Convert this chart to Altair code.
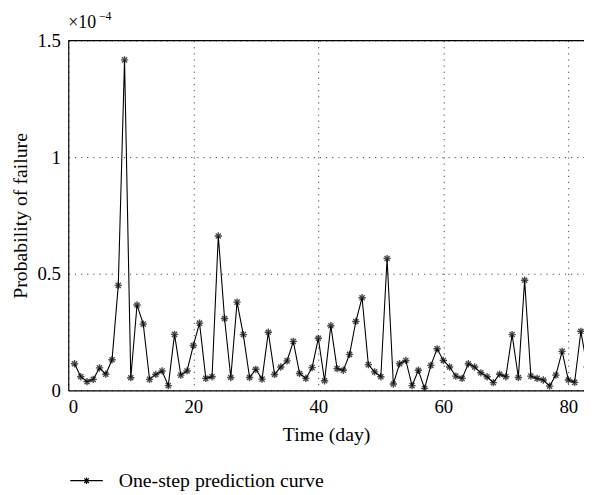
import altair as alt
import pandas as pd

days = list(range(1, 84))
prob = [0.114, 0.058, 0.037, 0.047, 0.096, 0.069, 0.131, 0.45, 1.417, 0.054,
        0.366, 0.284, 0.047, 0.068, 0.083, 0.02, 0.24, 0.065, 0.083, 0.192,
        0.288, 0.051, 0.058, 0.662, 0.308, 0.055, 0.378, 0.239, 0.055, 0.09,
        0.048, 0.249, 0.068, 0.1, 0.126, 0.21, 0.072, 0.051, 0.097, 0.223,
        0.041, 0.277, 0.093, 0.086, 0.154, 0.295, 0.397, 0.11, 0.079, 0.058,
        0.565, 0.027, 0.114, 0.128, 0.02, 0.086, 0.008, 0.107, 0.178, 0.128,
        0.1, 0.061, 0.051, 0.114, 0.1, 0.075, 0.058, 0.033, 0.069, 0.058,
        0.239, 0.055, 0.472, 0.061, 0.051, 0.044, 0.018, 0.065, 0.167, 0.044,
        0.034, 0.253, 0.1]
series = ["One-step prediction curve"] * len(days)
x_ticks = [0, 20, 40, 60, 80]
y_ticks = [0, 0.5, 1, 1.5]

df = pd.DataFrame({"day": days, "p": prob, "series": series})

FONT = "Liberation Serif"
W, H = 522, 354
ASTER = "M-1,0L1,0M0,-1L0,1M-0.7,-0.7L0.7,0.7M-0.7,0.7L0.7,-0.7"
LEG = ("M-1,0L1,0M0,-0.2L0,0.2M-0.14,-0.14L0.14,0.14M-0.14,0.14L0.14,-0.14")

xs = alt.Scale(domain=[0, 82.5], nice=False, zero=False)
ys = alt.Scale(domain=[0, 1.5], nice=False)

xenc = alt.X("day:Q", scale=xs, title="Time (day)",
             axis=alt.Axis(values=x_ticks, format="d", grid=True, ticks=False,
                           labelPadding=7, titlePadding=9))
yenc = alt.Y("p:Q", scale=ys, title="Probability of failure",
             axis=alt.Axis(values=y_ticks, grid=True, ticks=False,
                           labelPadding=8, titlePadding=7,
                           labelExpr="datum.value == 0 ? '0' : datum.value == 1 ? '1' : format(datum.value, '.1f')"))

line = alt.Chart(df).mark_line(color="black", strokeWidth=1.1, clip=True).encode(
    x=xenc, y=yenc,
    color=alt.Color("series:N", scale=alt.Scale(range=["black"]),
                    legend=alt.Legend(title=None, orient="none", legendX=1, legendY=428,
                                      symbolType=LEG, symbolSize=1089,
                                      symbolStrokeColor="black", symbolFillColor="transparent",
                                      symbolStrokeWidth=1.2, labelOffset=15, labelLimit=0,
                                      labelFont=FONT, labelFontSize=20, labelColor="black",
                                      padding=0)),
)

pts = alt.Chart(df).mark_point(shape=ASTER, size=55, filled=False, color="black",
                               strokeWidth=1.4, clip=True).encode(x="day:Q", y="p:Q")

top = alt.Chart(alt.Data(values=[{}])).mark_rule(color="black", strokeWidth=1.2).encode(
    x=alt.value(0), x2=alt.value(W), y=alt.value(0))

mult = alt.Chart(alt.Data(values=[{}])).mark_text(
    text="×10", font=FONT, fontSize=18, align="left", baseline="alphabetic", color="black"
).encode(x=alt.value(0), y=alt.value(-13))
expo = alt.Chart(alt.Data(values=[{}])).mark_text(
    text="−4", font=FONT, fontSize=12, align="left", baseline="alphabetic", color="black"
).encode(x=alt.value(31), y=alt.value(-21))

chart = alt.layer(line, pts, top, mult, expo).properties(
    width=W, height=H,
    autosize=alt.AutoSizeParams(type="none"),
    padding={"left": 61, "top": 30, "right": 0, "bottom": 100},
).configure_view(stroke=None).configure_axis(
    domainColor="black", domainWidth=1.2,
    gridColor="#444", gridDash=[1.2, 5], gridWidth=1,
    labelFont=FONT, labelFontSize=19, labelColor="black",
    titleFont=FONT, titleFontSize=20, titleFontWeight="normal", titleColor="black",
)

chart.save("out.html", embed_options={"renderer": "svg", "actions": False})
